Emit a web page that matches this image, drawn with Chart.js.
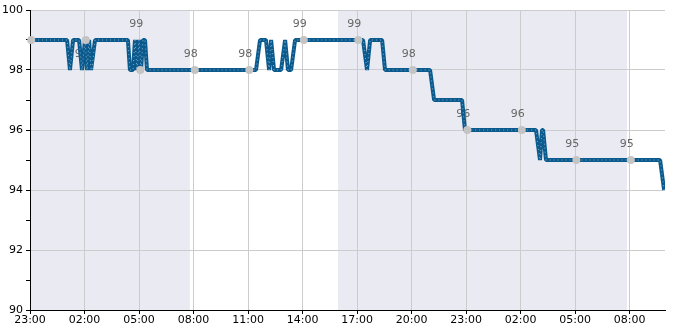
<!DOCTYPE html>
<html>
<head>
<meta charset="utf-8">
<script src="https://cdn.jsdelivr.net/npm/chart.js@4"></script>
<style>
  html, body { margin: 0; padding: 0; background: #fff; }
  #wrap { width: 685px; height: 330px; }
</style>
</head>
<body>
<div id="wrap"><canvas id="spo2Chart"></canvas></div>
<script>
// hours since 23:00 on day 1, and the reading at each corner of the trace
var hours = [0, 2.04, 2.20, 2.37, 2.70, 2.86, 3.03, 3.14, 3.25, 3.36, 3.41, 3.58,
             5.39, 5.50, 5.67, 5.78, 5.89, 6.00, 6.11, 6.22, 6.33, 6.44,
             12.44, 12.66, 12.99, 13.16, 13.27, 13.43, 13.82, 14.04, 14.20, 14.37, 14.59,
             18.33, 18.55, 18.72, 19.38, 19.54, 22.02, 22.24, 23.78, 23.94,
             27.85, 28.07, 28.18, 28.24, 28.40, 34.68, 34.90];
var spo2 = [99, 99, 98, 99, 99, 98, 99, 98, 99, 98, 98, 99,
            99, 98, 98, 99, 98, 99, 98, 99, 99, 98,
            98, 99, 99, 98, 99, 98, 98, 99, 98, 98, 99,
            99, 98, 99, 99, 98, 98, 97, 97, 96,
            96, 95, 96, 96, 95, 95, 94];

// marked readings every 3 hours and the numbers written above them
var markHours = [0.07, 3.07, 6.07, 9.07, 12.07, 15.07, 18.07, 21.07, 24.07, 27.07, 30.07, 33.07];
var markValues = [99, 99, 98, 98, 98, 99, 99, 98, 96, 96, 95, 95];
var markLabels = [null, 98, 99, 98, 98, 99, 99, 98, 96, 96, 95, 95];

var tickLabels = ['23:00', '02:00', '05:00', '08:00', '11:00', '14:00', '17:00', '20:00', '23:00', '02:00', '05:00', '08:00'];
var nightBands = [[0, 8.8], [16.95, 32.86]];

var trace = hours.map(function (h, i) { return { x: h, y: spo2[i] }; });
var marks = markHours.map(function (h, i) { return { x: h, y: markValues[i] }; });

var bandsPlugin = {
    id: 'bands',
    beforeDraw: function (chart) {
        var c = chart.ctx, a = chart.chartArea, xs = chart.scales.x;
        c.save();
        c.fillStyle = '#eaebf2';
        nightBands.forEach(function (b) {
            var x0 = Math.max(xs.getPixelForValue(b[0]), a.left);
            var x1 = Math.min(xs.getPixelForValue(b[1]), a.right);
            c.fillRect(x0, a.top, x1 - x0, a.bottom - a.top);
        });
        c.restore();
    }
};

var labelPlugin = {
    id: 'markLabels',
    beforeDatasetsDraw: function (chart) {
        var c = chart.ctx, xs = chart.scales.x, ys = chart.scales.y;
        c.save();
        c.font = '11px "DejaVu Sans"';
        c.fillStyle = '#666';
        c.textAlign = 'center';
        c.textBaseline = 'middle';
        markLabels.forEach(function (l, i) {
            if (l === null) return;
            c.fillText(String(l), xs.getPixelForValue(markHours[i]) - 4, ys.getPixelForValue(l) - 16);
        });
        c.restore();
    }
};

var ctx = document.getElementById('spo2Chart').getContext('2d');
var spo2Chart = new Chart(ctx, {
    type: 'line',
    data: {
        datasets: [{
            data: trace,
            order: 3,
            borderColor: '#0b5a8e',
            borderWidth: 4,
            borderJoinStyle: 'bevel',
            pointRadius: 0,
            tension: 0,
            fill: false
        }, {
            data: trace,
            order: 2,
            borderColor: 'rgba(210,225,240,0.6)',
            borderWidth: 1,
            borderDash: [1, 3],
            borderJoinStyle: 'bevel',
            pointRadius: 0,
            tension: 0,
            fill: false
        }, {
            type: 'scatter',
            data: marks,
            order: 1,
            pointRadius: 4,
            pointBackgroundColor: '#c4c4c4',
            pointBorderWidth: 0,
            showLine: false,
            clip: false
        }]
    },
    options: {
        responsive: true,
        maintainAspectRatio: false,
        animation: false,
        layout: { padding: { top: 10, right: 20, left: 0, bottom: 0 } },
        plugins: {
            legend: { display: false },
            tooltip: { enabled: false }
        },
        scales: {
            x: {
                type: 'linear',
                min: 0,
                max: 34.95,
                afterFit: function (s) { s.height = 20; },
                grid: { color: '#cccccc', tickColor: '#000', tickLength: 4 },
                border: { color: '#000' },
                ticks: {
                    stepSize: 3,
                    includeBounds: false,
                    autoSkip: false,
                    maxRotation: 0,
                    padding: 0,
                    color: '#000',
                    font: { family: 'DejaVu Sans', size: 11 },
                    callback: function (v) {
                        var i = Math.round(v / 3);
                        return Math.abs(v - i * 3) < 1e-6 && tickLabels[i] ? tickLabels[i] : '';
                    }
                }
            },
            y: {
                min: 90,
                max: 100,
                afterFit: function (s) { s.width = 30; },
                grid: {
                    color: function (c) { return c.tick && c.tick.value % 2 === 0 ? '#cccccc' : 'rgba(0,0,0,0)'; },
                    tickColor: '#000',
                    tickLength: 4
                },
                border: { color: '#000' },
                ticks: {
                    stepSize: 1,
                    autoSkip: false,
                    padding: 3,
                    color: '#000',
                    font: { family: 'DejaVu Sans', size: 11 },
                    callback: function (v) { return v % 2 === 0 ? v : ''; }
                }
            }
        }
    },
    plugins: [bandsPlugin, labelPlugin]
});
</script>
</body>
</html>
